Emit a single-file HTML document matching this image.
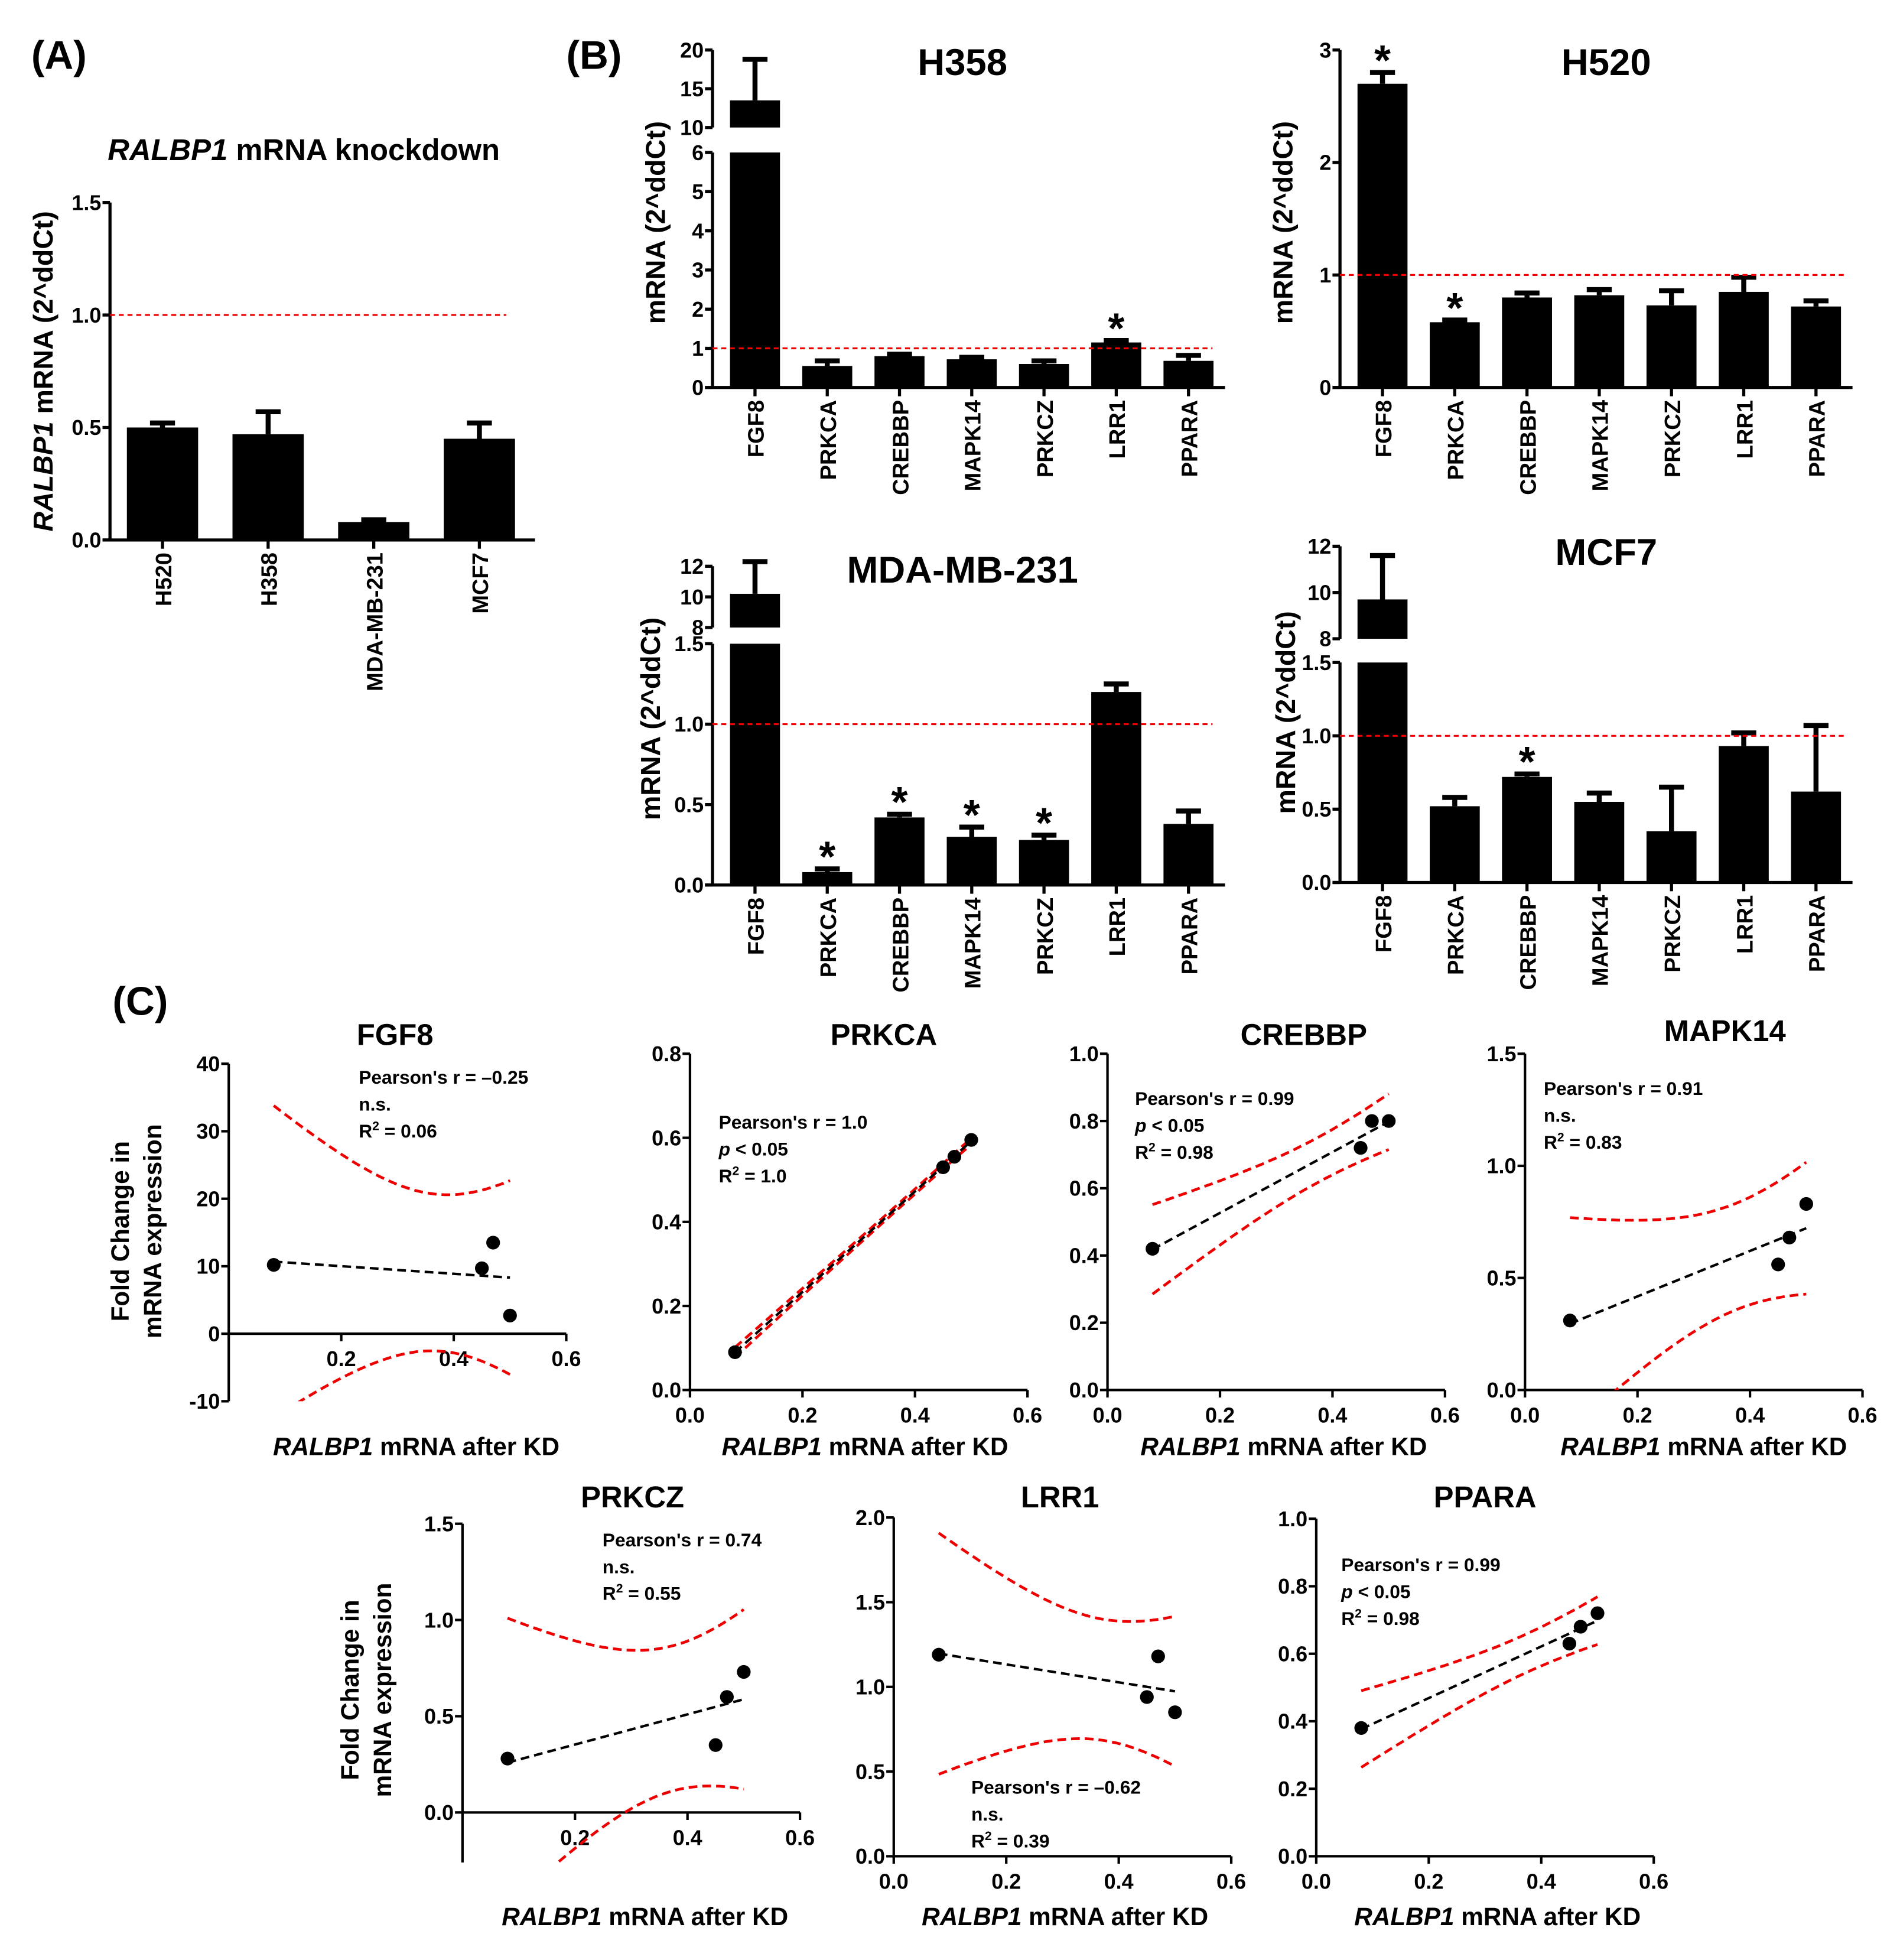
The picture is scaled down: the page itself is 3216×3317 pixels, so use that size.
<!DOCTYPE html>
<html><head><meta charset="utf-8"><style>
html,body{margin:0;padding:0;background:#fff}
svg{display:block}
text{font-family:"Liberation Sans",Arial,sans-serif;font-weight:bold;fill:#000}
</style></head><body>
<svg id="fig" xmlns="http://www.w3.org/2000/svg" width="3216" height="3317" viewBox="0 0 1520 1568" preserveAspectRatio="none">
<rect width="1520" height="1568" fill="#fff"/>
<text x="25" y="55" font-size="32">(A)</text>
<text x="453" y="55" font-size="32">(B)</text>
<text x="90" y="812" font-size="32">(C)</text>
<text x="243" y="128" font-size="24" text-anchor="middle"><tspan font-style="italic">RALBP1</tspan> mRNA knockdown</text>
</svg>
<script>
// ---- Panel A data ----
const kdCells = ["H520","H358","MDA-MB-231","MCF7"];
const kdValues = [0.50,0.47,0.08,0.45];
const kdErrors = [0.52,0.57,0.09,0.52];
const kdTicks = [0,0.5,1.0,1.5];
const kdTickLabels = ["0.0","0.5","1.0","1.5"];

// ---- Panel B data ----
const genes = ["FGF8","PRKCA","CREBBP","MAPK14","PRKCZ","LRR1","PPARA"];
const h358Values = [13.5,0.55,0.80,0.72,0.60,1.15,0.68];
const h358Errors = [18.8,0.68,0.85,0.77,0.68,1.20,0.82];
const h358Stars = [0,0,0,0,0,1,0];
const h520Values = [2.70,0.58,0.80,0.82,0.73,0.85,0.72];
const h520Errors = [2.80,0.60,0.84,0.87,0.86,0.98,0.77];
const h520Stars = [1,1,0,0,0,0,0];
const mdaValues = [10.2,0.08,0.42,0.30,0.28,1.20,0.38];
const mdaErrors = [12.3,0.10,0.44,0.36,0.31,1.25,0.46];
const mdaStars = [0,1,1,1,1,0,0];
const mcf7Values = [9.7,0.52,0.72,0.55,0.35,0.93,0.62];
const mcf7Errors = [11.6,0.58,0.74,0.61,0.65,1.02,1.07];
const mcf7Stars = [0,0,1,0,0,0,0];

// ---- Panel C data (x order: MDA-MB-231, MCF7, H358, H520) ----
const kdX = [0.08,0.45,0.47,0.50];
const fgf8Y = [10.2,9.7,13.5,2.7];
const prkcaY = [0.09,0.53,0.555,0.595];
const crebbpY = [0.42,0.72,0.80,0.80];
const mapk14Y = [0.31,0.56,0.68,0.83];
const prkczY = [0.28,0.35,0.60,0.73];
const lrr1Y = [1.19,0.94,1.18,0.85];
const pparaY = [0.38,0.63,0.68,0.72];
const fgf8Stats = ["Pearson's r = \u20130.25","n.s.","R2 = 0.06"];
const prkcaStats = ["Pearson's r = 1.0","p < 0.05","R2 = 1.0"];
const crebbpStats = ["Pearson's r = 0.99","p < 0.05","R2 = 0.98"];
const mapk14Stats = ["Pearson's r = 0.91","n.s.","R2 = 0.83"];
const prkczStats = ["Pearson's r = 0.74","n.s.","R2 = 0.55"];
const lrr1Stats = ["Pearson's r = \u20130.62","n.s.","R2 = 0.39"];
const pparaStats = ["Pearson's r = 0.99","p < 0.05","R2 = 0.98"];

const NS="http://www.w3.org/2000/svg";
const svg=document.getElementById('fig');
function mk(tag,attrs,parent){const e=document.createElementNS(NS,tag);for(const k in attrs)e.setAttribute(k,attrs[k]);(parent||svg).appendChild(e);return e;}
function txt(s,x,y,size,anchor,parent,rot){const t=mk('text',{x:x,y:y,'font-size':size,'text-anchor':anchor||'start'},parent);if(rot)t.setAttribute('transform','rotate('+rot+' '+x+' '+y+')');t.textContent=s;return t;}

// ---------- Bar chart ----------
function barChart(c){
  const g=mk('g',{});
  
  
  const L=c.lower, U=c.upper;
  const yl=v=>L.p0+(L.p1-L.p0)*(v-L.v0)/(L.v1-L.v0);
  const yu=U?(v=>U.p0+(U.p1-U.p0)*(v-U.v0)/(U.v1-U.v0)):null;
  const n=c.values.length;
  const xc=i=>c.x0+c.first+i*c.step;
  const ax=mk('line',{x1:c.x0,y1:L.p1,x2:c.x0,y2:L.p0,stroke:'#000','stroke-width':2.5},g);
  
  
  if(U){const au=mk('line',{x1:c.x0,y1:U.p1,x2:c.x0,y2:U.p0,stroke:'#000','stroke-width':2.5},g);
    
    }
  const xa=mk('line',{x1:c.x0-6,y1:L.p0,x2:c.xEnd,y2:L.p0,stroke:'#000','stroke-width':2.5},g);
  
  
  const tickSet=(S,f)=>S.ticks.forEach((v,i)=>{mk('line',{x1:c.x0-6,y1:f(v),x2:c.x0,y2:f(v),stroke:'#000','stroke-width':2.5},g);
    const t=txt(S.labels[i],c.x0-7,f(v)+6,c.tickFs||17,'end',g);
    
    });
  tickSet(L,yl); if(U) tickSet(U,yu);
  for(let i=0;i<n;i++){
    const v=c.values[i], e=c.errors[i], x=xc(i), w=c.bw;
    let topY, errY;
    if(U && v>L.v1){
      const b1=mk('rect',{x:x-w/2,y:L.p1,width:w,height:L.p0-L.p1,fill:'#000'},g);
      
      
      topY=yu(v);
      const b2=mk('rect',{x:x-w/2,y:topY,width:w,height:U.p0-topY,fill:'#000'},g);
      
      
      errY=yu(e);
    } else {
      topY=yl(v);
      const b=mk('rect',{x:x-w/2,y:topY,width:w,height:L.p0-topY,fill:'#000'},g);
      
      
      errY=yl(e);
    }
    const eb=mk('path',{d:`M${x} ${topY}V${errY}M${x-10} ${errY}H${x+10}`,stroke:'#000','stroke-width':4,fill:'none'},g);
    
    
    if(c.stars[i]){const s=txt('*',x,errY+14,34,'middle',g);
      s.setAttribute('transform','translate(0,-12)');
      
      }
    mk('line',{x1:x,y1:L.p0,x2:x,y2:L.p0+7,stroke:'#000','stroke-width':2.5},g);
    const lt=txt(c.cats[i],x+7,L.p0+10,18,'end',g,-90);
    
    
  }
  const rl=mk('line',{x1:c.x0,y1:yl(1),x2:c.redEnd,y2:yl(1),stroke:'#e00','stroke-width':1.5,'stroke-dasharray':'4 3'},g);
  
  
  if(c.title){const t=txt(c.title,c.titleX,c.titleY,30,'middle',g);
    
    }
  const yt=txt(c.ylabel,c.ylx,c.yly,22,'middle',g,-90);
  
  
  return {g,yt};
}

const A=barChart({name:'knockdown-chart',cats:kdCells,values:kdValues,errors:kdErrors,stars:[0,0,0,0],
  x0:88,xEnd:428,first:42,step:84.5,bw:57,redEnd:405,
  lower:{v0:0,v1:1.5,p0:432,p1:162,ticks:kdTicks,labels:kdTickLabels},
  ylabel:'',ylx:42,yly:297});
A.yt.innerHTML='<tspan font-style="italic">RALBP1</tspan> mRNA (2^ddCt)';

const stdB={first:34,step:57.8,bw:40};
barChart(Object.assign({name:'h358-chart',title:'H358',titleX:770,titleY:60,cats:genes,values:h358Values,errors:h358Errors,stars:h358Stars,
  x0:570,xEnd:980,redEnd:970,
  lower:{v0:0,v1:6,p0:310,p1:122,ticks:[0,1,2,3,4,5,6],labels:["0","1","2","3","4","5","6"]},
  upper:{v0:10,v1:20,p0:102,p1:40,ticks:[10,15,20],labels:["10","15","20"]},
  ylabel:'mRNA (2^ddCt)',ylx:532,yly:178},stdB));
barChart(Object.assign({name:'h520-chart',title:'H520',titleX:1285,titleY:60,cats:genes,values:h520Values,errors:h520Errors,stars:h520Stars,
  x0:1072,xEnd:1482,redEnd:1475,
  lower:{v0:0,v1:3,p0:310,p1:40,ticks:[0,1,2,3],labels:["0","1","2","3"]},
  ylabel:'mRNA (2^ddCt)',ylx:1034,yly:178},stdB));
barChart(Object.assign({name:'mda-mb-231-chart',title:'MDA-MB-231',titleX:770,titleY:466,cats:genes,values:mdaValues,errors:mdaErrors,stars:mdaStars,
  x0:570,xEnd:980,redEnd:970,
  lower:{v0:0,v1:1.5,p0:708,p1:515,ticks:[0,0.5,1.0,1.5],labels:["0.0","0.5","1.0","1.5"]},
  upper:{v0:8,v1:12,p0:502,p1:453,ticks:[8,10,12],labels:["8","10","12"]},
  ylabel:'mRNA (2^ddCt)',ylx:528,yly:575},stdB));
barChart(Object.assign({name:'mcf7-chart',title:'MCF7',titleX:1285,titleY:452,cats:genes,values:mcf7Values,errors:mcf7Errors,stars:mcf7Stars,
  x0:1072,xEnd:1482,redEnd:1475,
  lower:{v0:0,v1:1.5,p0:706,p1:530,ticks:[0,0.5,1.0,1.5],labels:["0.0","0.5","1.0","1.5"]},
  upper:{v0:8,v1:12,p0:511,p1:437,ticks:[8,10,12],labels:["8","10","12"]},
  ylabel:'mRNA (2^ddCt)',ylx:1036,yly:570},stdB));

// ---------- Scatter ----------
let clipId=0;
function scatter(c){
  const g=mk('g',{});
  
  
  const X=v=>c.ax+v*450;
  const Y=v=>c.y0p+(c.y1p-c.y0p)*(v-c.ymin)/(c.ymax-c.ymin);
  const zeroY=Y(Math.max(0,c.ymin));
  const ya=mk('line',{x1:c.ax,y1:Y(c.ymax),x2:c.ax,y2:c.y0p,stroke:'#000','stroke-width':2},g);
  
  
  const xa=mk('line',{x1:c.ax,y1:zeroY,x2:X(0.6),y2:zeroY,stroke:'#000','stroke-width':2},g);
  
  
  c.yt.forEach(v=>{mk('line',{x1:c.ax-6,y1:Y(v),x2:c.ax,y2:Y(v),stroke:'#000','stroke-width':2},g);
    const t=txt(c.ytl(v),c.ax-7,Y(v)+6,17,'end',g);
    
    });
  const xt=c.skip0?[0.2,0.4,0.6]:[0,0.2,0.4,0.6];
  xt.forEach(v=>{mk('line',{x1:X(v),y1:zeroY,x2:X(v),y2:zeroY+6,stroke:'#000','stroke-width':2},g);
    const t=txt(v.toFixed(1),X(v),zeroY+26,17,'middle',g);
    
    });
  const xs=c.xs, ys=c.ys, n=xs.length;
  const mx=xs.reduce((a,b)=>a+b)/n, my=ys.reduce((a,b)=>a+b)/n;
  let sxx=0,sxy=0; for(let i=0;i<n;i++){sxx+=(xs[i]-mx)**2;sxy+=(xs[i]-mx)*(ys[i]-my);}
  const b=sxy/sxx, a=my-b*mx;
  let sse=0; for(let i=0;i<n;i++) sse+=(ys[i]-a-b*xs[i])**2;
  const s=Math.sqrt(sse/(n-2)), t=4.303;
  const xmin=Math.min(...xs), xmax=Math.max(...xs);
  const id='clip'+(clipId++);
  const cp=mk('clipPath',{id:id},g); mk('rect',{x:c.ax,y:Y(c.ymax),width:460,height:c.y0p-Y(c.ymax)},cp);
  let up='',lo='';
  for(let k=0;k<=40;k++){const x=xmin+(xmax-xmin)*k/40;const h=t*s*Math.sqrt(1/n+(x-mx)**2/sxx);const yh=a+b*x;
    up+=(k?'L':'M')+X(x).toFixed(1)+' '+Y(yh+h).toFixed(1);lo+=(k?'L':'M')+X(x).toFixed(1)+' '+Y(yh-h).toFixed(1);}
  const cu=mk('path',{d:up,stroke:'#e00','stroke-width':2.2,fill:'none','stroke-dasharray':'7 4','clip-path':'url(#'+id+')'},g);
  
  
  const cl=mk('path',{d:lo,stroke:'#e00','stroke-width':2.2,fill:'none','stroke-dasharray':'7 4','clip-path':'url(#'+id+')'},g);
  
  
  const rl=mk('line',{x1:X(xmin),y1:Y(a+b*xmin),x2:X(xmax),y2:Y(a+b*xmax),stroke:'#000','stroke-width':2,'stroke-dasharray':'7 4'},g);
  
  
  for(let i=0;i<n;i++){const p=mk('circle',{cx:X(xs[i]),cy:Y(ys[i]),r:5.5,fill:'#000'},g);
    
    }
  const tt=txt(c.title,c.titleX,c.titleY,24,'middle',g);
  
  
  const xl=mk('text',{x:c.ax+c.xtOff,y:c.xtY,'font-size':20,'text-anchor':'middle'},g);
  
  
  xl.innerHTML='<tspan font-style="italic">RALBP1</tspan> mRNA after KD';
  c.stats.forEach((line,i)=>{
    const st=mk('text',{x:c.sx,y:c.sy+i*21.5,'font-size':15},g);
    
    
    if(line.startsWith('R2')) st.innerHTML='R<tspan font-size="10" dy="-6">2</tspan><tspan dy="6"> '+line.slice(2)+'</tspan>';
    else if(line.startsWith('p ')) st.innerHTML='<tspan font-style="italic">p</tspan>'+line.slice(1);
    else st.textContent=line;
  });
  if(c.ylab){[['Fold Change in',c.ylx],['mRNA expression',c.ylx+26]].forEach(([s,x])=>{
    const yt=txt(s,x,c.yly,20,'middle',g,-90);
    
    });}
}
const f1=v=>v.toFixed(1), f0=v=>String(v);
scatter({name:'fgf8-scatter',title:'FGF8',titleX:316,titleY:836,xs:kdX,ys:fgf8Y,ax:183,ymin:-10,ymax:40,y0p:1121,y1p:851,
  yt:[-10,0,10,20,30,40],ytl:f0,skip0:true,xtOff:150,xtY:1164,stats:fgf8Stats,sx:287,sy:867,ylab:true,ylx:103,yly:985});
scatter({name:'prkca-scatter',title:'PRKCA',titleX:707,titleY:836,xs:kdX,ys:prkcaY,ax:552,ymin:0,ymax:0.8,y0p:1112,y1p:843,
  yt:[0,0.2,0.4,0.6,0.8],ytl:f1,xtOff:140,xtY:1164,stats:prkcaStats,sx:575,sy:903});
scatter({name:'crebbp-scatter',title:'CREBBP',titleX:1043,titleY:836,xs:kdX,ys:crebbpY,ax:886,ymin:0,ymax:1.0,y0p:1112,y1p:843,
  yt:[0,0.2,0.4,0.6,0.8,1.0],ytl:f1,xtOff:141,xtY:1164,stats:crebbpStats,sx:908,sy:884});
scatter({name:'mapk14-scatter',title:'MAPK14',titleX:1380,titleY:833,xs:kdX,ys:mapk14Y,ax:1220,ymin:0,ymax:1.5,y0p:1112,y1p:843,
  yt:[0,0.5,1.0,1.5],ytl:f1,xtOff:143,xtY:1164,stats:mapk14Stats,sx:1235,sy:876});
scatter({name:'prkcz-scatter',title:'PRKCZ',titleX:506,titleY:1206,xs:kdX,ys:prkczY,ax:370,ymin:-0.26,ymax:1.5,y0p:1490,y1p:1219,
  yt:[0,0.5,1.0,1.5],ytl:f1,skip0:true,xtOff:146,xtY:1540,stats:prkczStats,sx:482,sy:1237,ylab:true,ylx:287,yly:1352});
scatter({name:'lrr1-scatter',title:'LRR1',titleX:848,titleY:1206,xs:kdX,ys:lrr1Y,ax:715,ymin:0,ymax:2.0,y0p:1485,y1p:1214,
  yt:[0,0.5,1.0,1.5,2.0],ytl:f1,xtOff:137,xtY:1540,stats:lrr1Stats,sx:777,sy:1435});
scatter({name:'ppara-scatter',title:'PPARA',titleX:1188,titleY:1206,xs:kdX,ys:pparaY,ax:1053,ymin:0,ymax:1.0,y0p:1485,y1p:1215,
  yt:[0,0.2,0.4,0.6,0.8,1.0],ytl:f1,xtOff:145,xtY:1540,stats:pparaStats,sx:1073,sy:1257});
</script>
</body></html>
